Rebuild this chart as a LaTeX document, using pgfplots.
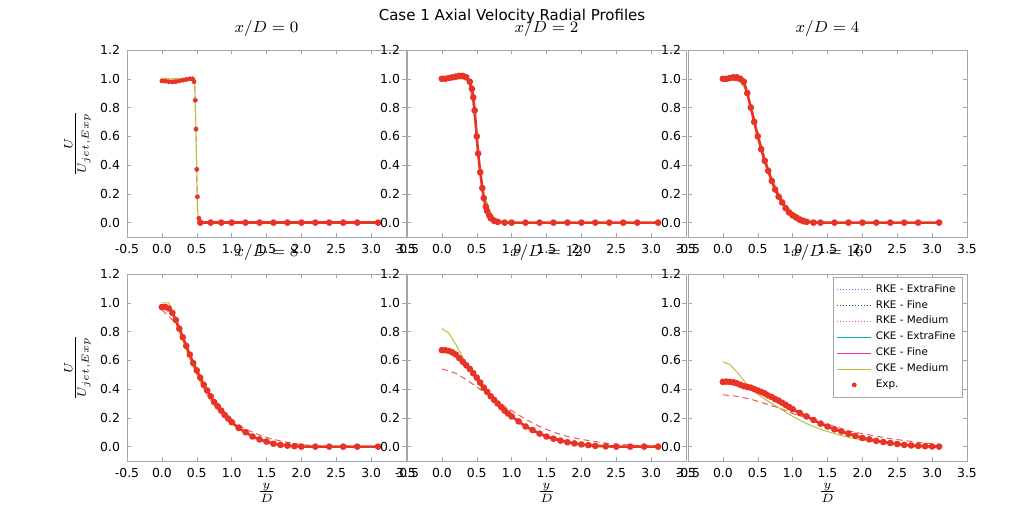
\documentclass[border=0pt]{standalone}
\usepackage{pgfplots}
\pgfplotsset{compat=1.18}
\usepackage{fontspec}
\setmainfont{DejaVu Sans}
\definecolor{expc}{RGB}{232,52,38}
\definecolor{ckem}{RGB}{190,190,60}
\definecolor{rkem}{RGB}{230,90,80}
\pgfplotsset{panel/.style={scale only axis, width=139.5pt, height=93.5pt,
 xmin=-0.5,xmax=3.5,ymin=-0.1,ymax=1.2,
 xtick={-0.5,0,...,3.5}, ytick={0,0.2,...,1.2},
 /pgf/number format/assume math mode=true,
 /pgf/number format/.cd,fixed,fixed zerofill,precision=1,/pgfplots/.cd,
 tick label style={font=\fontsize{6.2}{7}\selectfont},
 axis line style={gray!70}, tick style={gray!70, major tick length=2pt},
 tick align=inside, title style={font=\fontsize{8.5}{9}\selectfont, yshift=-3pt},
 every axis plot/.append style={line join=round}},
 expl/.style={expc, line width=1.3pt, mark=*, mark size=1pt, mark options={solid}},
 ckel/.style={ckem, line width=0.5pt},
 rkel/.style={rkem, densely dashed, line width=0.5pt},
 ylab/.style={ylabel={$\frac{U}{U_{jet,Exp}}$}, ylabel style={font=\fontsize{9}{10}\selectfont, yshift=-2pt}},
 xlab/.style={xlabel={$\frac{y}{D}$}, xlabel style={font=\fontsize{9}{10}\selectfont, yshift=4pt}}}
\begin{document}
\begin{tikzpicture}
\path (0pt,0pt) rectangle (512pt,-256pt);
\node at (256pt,-8pt) {\fontsize{7.5}{9}\selectfont Case 1 Axial Velocity Radial Profiles};
% Panel 1
\begin{axis}[panel, ylab, at={(63.5pt,-25pt)}, anchor=north west, title={$x/D=0$}]
\addplot[rkel] coordinates {(0,1.0)(0.47,1.0)(0.49,0.6)(0.51,0.1)(0.53,0)(3.1,0)};
\addplot[ckel] coordinates {(0,1.0)(0.47,1.0)(0.49,0.6)(0.51,0.1)(0.53,0)(3.1,0)};
\addplot[expc, only marks, mark=*, mark size=1pt] coordinates {(0,0.985)(0.05,0.983)(0.1,0.98)(0.15,0.978)(0.2,0.98)(0.25,0.985)(0.3,0.99)(0.35,0.995)(0.4,1.0)(0.44,1.0)(0.46,0.98)(0.48,0.85)(0.49,0.65)(0.5,0.37)(0.51,0.18)(0.53,0.03)};
\addplot[expc, line width=1.3pt] coordinates {(0,0.985)(0.1,0.98)(0.2,0.98)(0.3,0.99)(0.4,1.0)(0.45,1.0)};
\addplot[expl] coordinates {(0.55,0)(0.7,0)(0.85,0)(1.0,0)(1.2,0)(1.4,0)(1.6,0)(1.8,0)(2.0,0)(2.2,0)(2.4,0)(2.6,0)(2.8,0)(3.1,0)};
\end{axis}
% Panel 2
\begin{axis}[panel, at={(203.5pt,-25pt)}, anchor=north west, title={$x/D=2$}]
\addplot[rkel] coordinates {(0,1.0)(0.35,1.0)(0.4,0.95)(0.45,0.82)(0.5,0.58)(0.55,0.37)(0.6,0.2)(0.7,0.06)(0.8,0.015)(1.0,0)(3.1,0)};
\addplot[ckel] coordinates {(0,1.0)(0.35,1.0)(0.4,0.95)(0.45,0.82)(0.5,0.58)(0.55,0.37)(0.6,0.2)(0.7,0.06)(0.8,0.015)(1.0,0)(3.1,0)};
\addplot[expl] coordinates {(0,1.0)(0.05,1.0)(0.1,1.005)(0.15,1.01)(0.2,1.015)(0.25,1.02)(0.3,1.02)(0.35,1.01)(0.4,0.98)(0.43,0.93)(0.45,0.87)(0.47,0.78)(0.5,0.6)(0.52,0.48)(0.55,0.35)(0.58,0.24)(0.6,0.17)(0.63,0.11)(0.65,0.08)(0.68,0.05)(0.7,0.03)(0.75,0.012)(0.8,0.005)(0.9,0)(1.0,0)(1.2,0)(1.4,0)(1.6,0)(1.8,0)(2.0,0)(2.2,0)(2.4,0)(2.6,0)(2.8,0)(3.1,0)};
\end{axis}
% Panel 3
\begin{axis}[panel, at={(344pt,-25pt)}, anchor=north west, title={$x/D=4$}]
\addplot[rkel] coordinates {(0,0.98)(0.2,0.99)(0.3,0.95)(0.4,0.82)(0.5,0.63)(0.6,0.45)(0.7,0.31)(0.8,0.2)(0.9,0.12)(1.0,0.07)(1.2,0.02)(1.4,0.005)(1.6,0)(3.1,0)};
\addplot[ckel] coordinates {(0,1.0)(0.2,1.0)(0.3,0.95)(0.4,0.82)(0.5,0.63)(0.6,0.45)(0.7,0.31)(0.8,0.2)(0.9,0.12)(1.0,0.07)(1.2,0.02)(1.4,0.005)(1.6,0)(3.1,0)};
\addplot[expl] coordinates {(0,1.0)(0.05,1.0)(0.1,1.005)(0.15,1.01)(0.2,1.01)(0.25,1.0)(0.3,0.98)(0.35,0.9)(0.4,0.8)(0.45,0.7)(0.5,0.6)(0.55,0.51)(0.6,0.43)(0.65,0.36)(0.7,0.29)(0.75,0.23)(0.8,0.18)(0.85,0.14)(0.9,0.1)(0.95,0.07)(1.0,0.05)(1.05,0.035)(1.1,0.02)(1.15,0.01)(1.2,0.005)(1.3,0)(1.4,0)(1.6,0)(1.8,0)(2.0,0)(2.2,0)(2.4,0)(2.6,0)(2.8,0)(3.1,0)};
\end{axis}
% Panel 4
\begin{axis}[panel, ylab, xlab, at={(63.5pt,-137pt)}, anchor=north west, title={$x/D=8$}]
\addplot[rkel] coordinates {(0,0.95)(0.2,0.86)(0.4,0.63)(0.6,0.43)(0.8,0.29)(1.0,0.19)(1.2,0.12)(1.4,0.08)(1.6,0.05)(1.8,0.03)(2.0,0.015)(2.2,0.005)(2.5,0)(3.1,0)};
\addplot[ckel] coordinates {(0,1.0)(0.1,1.0)(0.2,0.88)(0.3,0.74)(0.4,0.61)(0.5,0.5)(0.6,0.4)(0.7,0.32)(0.8,0.26)(1.0,0.16)(1.2,0.1)(1.4,0.05)(1.6,0.025)(1.8,0.01)(2.0,0)(3.1,0)};
\addplot[expl] coordinates {(0,0.97)(0.05,0.97)(0.1,0.96)(0.15,0.93)(0.2,0.88)(0.25,0.82)(0.3,0.76)(0.35,0.7)(0.4,0.64)(0.45,0.58)(0.5,0.53)(0.55,0.48)(0.6,0.43)(0.65,0.39)(0.7,0.35)(0.75,0.31)(0.8,0.28)(0.85,0.25)(0.9,0.22)(0.95,0.195)(1.0,0.17)(1.1,0.13)(1.2,0.1)(1.3,0.07)(1.4,0.05)(1.5,0.035)(1.6,0.02)(1.7,0.012)(1.8,0.007)(1.9,0.003)(2.0,0)(2.2,0)(2.4,0)(2.6,0)(2.8,0)(3.1,0)};
\end{axis}
% Panel 5
\begin{axis}[panel, xlab, at={(203.5pt,-137pt)}, anchor=north west, title={$x/D=12$}]
\addplot[rkel] coordinates {(0,0.54)(0.2,0.51)(0.4,0.45)(0.6,0.38)(0.8,0.31)(1.0,0.25)(1.2,0.19)(1.4,0.14)(1.6,0.1)(1.8,0.07)(2.0,0.05)(2.4,0.02)(2.8,0.008)(3.1,0.004)};
\addplot[ckel] coordinates {(0,0.82)(0.1,0.79)(0.2,0.71)(0.3,0.62)(0.4,0.53)(0.5,0.46)(0.6,0.39)(0.8,0.29)(1.0,0.21)(1.2,0.14)(1.4,0.09)(1.6,0.06)(1.8,0.035)(2.0,0.02)(2.4,0.005)(3.0,0)};
\addplot[expl] coordinates {(0,0.67)(0.05,0.67)(0.1,0.665)(0.15,0.655)(0.2,0.64)(0.25,0.615)(0.3,0.59)(0.35,0.565)(0.4,0.54)(0.45,0.51)(0.5,0.48)(0.55,0.445)(0.6,0.41)(0.65,0.38)(0.7,0.35)(0.75,0.325)(0.8,0.3)(0.85,0.275)(0.9,0.25)(0.95,0.23)(1.0,0.21)(1.1,0.175)(1.2,0.14)(1.3,0.115)(1.4,0.09)(1.5,0.07)(1.6,0.055)(1.7,0.042)(1.8,0.03)(1.9,0.022)(2.0,0.015)(2.1,0.01)(2.2,0.005)(2.35,0.002)(2.5,0)(2.7,0)(2.9,0)(3.1,0)};
\end{axis}
% Panel 6
\begin{axis}[panel, xlab, at={(344pt,-137pt)}, anchor=north west, title={$x/D=16$},
 legend style={at={(0.985,0.985)}, anchor=north east, font=\fontsize{5.2}{6}\selectfont, draw=gray!70, row sep=-1.5pt, inner sep=1.5pt},
 legend cell align=left]
\addlegendimage{blue!60, densely dotted, line width=0.5pt}\addlegendentry{RKE - ExtraFine}
\addlegendimage{green!50!black, densely dotted, line width=0.5pt}\addlegendentry{RKE - Fine}
\addlegendimage{rkem, densely dotted, line width=0.5pt}\addlegendentry{RKE - Medium}
\addlegendimage{teal!60!cyan, line width=0.5pt}\addlegendentry{CKE - ExtraFine}
\addlegendimage{magenta!80, line width=0.5pt}\addlegendentry{CKE - Fine}
\addlegendimage{ckem, line width=0.5pt}\addlegendentry{CKE - Medium}
\addlegendimage{expc, only marks, mark=*, mark size=1pt}\addlegendentry{Exp.}
\addplot[rkel, forget plot] coordinates {(0,0.36)(0.2,0.35)(0.4,0.33)(0.6,0.3)(0.8,0.27)(1.0,0.23)(1.2,0.2)(1.4,0.17)(1.6,0.14)(1.8,0.11)(2.0,0.09)(2.4,0.055)(2.8,0.03)(3.0,0.02)};
\addplot[ckel, forget plot] coordinates {(0,0.59)(0.1,0.57)(0.2,0.52)(0.3,0.46)(0.4,0.4)(0.6,0.33)(0.8,0.27)(1.0,0.21)(1.2,0.16)(1.4,0.12)(1.6,0.09)(1.8,0.065)(2.0,0.045)(2.4,0.02)(2.8,0.008)(3.0,0.005)};
\addplot[expl, forget plot] coordinates {(0,0.45)(0.05,0.452)(0.1,0.45)(0.15,0.447)(0.2,0.44)(0.25,0.43)(0.3,0.42)(0.35,0.415)(0.4,0.41)(0.45,0.4)(0.5,0.39)(0.55,0.38)(0.6,0.37)(0.65,0.355)(0.7,0.345)(0.75,0.33)(0.8,0.32)(0.85,0.305)(0.9,0.29)(0.95,0.275)(1.0,0.26)(1.1,0.235)(1.2,0.21)(1.3,0.185)(1.4,0.16)(1.5,0.14)(1.6,0.12)(1.7,0.105)(1.8,0.09)(1.9,0.075)(2.0,0.06)(2.1,0.05)(2.2,0.04)(2.3,0.032)(2.4,0.025)(2.5,0.018)(2.6,0.012)(2.7,0.008)(2.8,0.005)(2.9,0.003)(3.0,0.001)(3.1,0)};
\end{axis}
\end{tikzpicture}
\end{document}
